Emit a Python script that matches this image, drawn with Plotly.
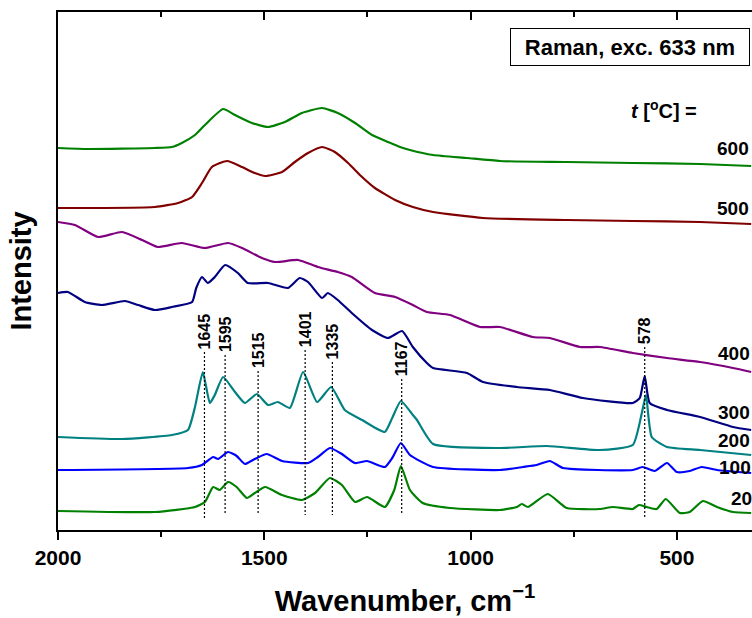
import plotly.graph_objects as go

# ---------------- data (intensity in arbitrary units, offsets included) ----------------
wn_600 = [2000, 1927, 1765, 1724, 1700, 1668, 1644, 1600, 1571, 1530, 1491, 1450, 1409, 1360, 1322, 1280,
          1239, 1200, 1171, 1147, 1091, 1009, 929, 767, 607, 444, 320]
int_600 = [382, 381, 382, 383, 387, 395, 405, 421, 415, 407, 403, 408, 417, 422, 417, 407,
           395, 388, 383, 380, 375, 372, 369, 368, 367, 366, 364]

wn_500 = [2000, 1765, 1709, 1675, 1651, 1627, 1590, 1554, 1523, 1498, 1457, 1426, 1394, 1360, 1329, 1297,
          1263, 1232, 1183, 1140, 1091, 970, 767, 607, 444, 320]
int_500 = [322, 323, 327, 333, 347, 363, 369, 363, 357, 354, 358, 368, 377, 383, 378, 367,
           353, 342, 330, 323, 318, 312, 310, 309, 308, 306]

wn_400 = [2000, 1959, 1903, 1845, 1796, 1758, 1700, 1644, 1588, 1554, 1506, 1474, 1418, 1370, 1322, 1288,
          1232, 1183, 1140, 1106, 1050, 977, 929, 849, 808, 735, 687, 607, 524, 444, 364, 320]
int_400 = [308, 305, 293, 298, 290, 283, 287, 282, 287, 282, 272, 268, 270, 263, 258, 253,
           237, 233, 225, 218, 215, 203, 203, 193, 192, 183, 183, 177, 172, 168, 162, 158]

wn_300 = [2000, 1976, 1935, 1894, 1838, 1806, 1765, 1724, 1675, 1665, 1651, 1637, 1620, 1595, 1564, 1540,
          1491, 1443, 1414, 1394, 1360, 1346, 1322, 1288, 1239, 1200, 1166, 1140, 1106, 1091, 1009, 970,
          888, 808, 728, 607, 590, 578, 566, 524, 444, 364, 320]
int_300 = [237, 238, 228, 225, 229, 225, 220, 223, 228, 242, 253, 247, 253, 265, 257, 247,
           247, 242, 252, 248, 232, 237, 230, 217, 200, 192, 199, 183, 167, 162, 157, 148,
           143, 140, 132, 127, 132, 154, 127, 120, 113, 103, 100]

wn_200 = [2000, 1845, 1724, 1685, 1668, 1649, 1632, 1620, 1600, 1571, 1547, 1518, 1491, 1467, 1438, 1406,
          1372, 1338, 1305, 1263, 1208, 1190, 1169, 1140, 1130, 1091, 929, 815, 687, 607, 585, 575, 561,
          524, 444, 320]
int_200 = [93, 91, 95, 100, 123, 158, 127, 135, 153, 138, 127, 136, 125, 128, 122, 158,
           128, 143, 120, 110, 98, 112, 129, 115, 110, 86, 82, 84, 80, 85, 117, 135, 93,
           83, 80, 75]

wn_100 = [2000, 1685, 1651, 1624, 1612, 1588, 1567, 1547, 1523, 1494, 1457, 1394, 1370, 1341, 1312, 1280,
          1251, 1208, 1190, 1169, 1147, 1091, 929, 873, 840, 808, 776, 607, 583, 554, 524, 500, 469, 440,
          403, 320]
int_100 = [60, 62, 65, 73, 71, 78, 74, 66, 71, 76, 69, 67, 73, 82, 76, 67,
           69, 63, 72, 87, 75, 63, 60, 63, 65, 69, 62, 60, 63, 59, 67, 58, 59, 63,
           60, 57]

wn_20 = [2000, 1765, 1668, 1644, 1624, 1608, 1588, 1567, 1542, 1523, 1498, 1457, 1409, 1377, 1341, 1312,
         1280, 1251, 1208, 1185, 1169, 1147, 1116, 1050, 929, 888, 876, 861, 813, 767, 687, 655, 607,
         592, 573, 549, 527, 493, 469, 437, 403, 364, 320]
int_20 = [19, 18, 23, 28, 43, 40, 48, 43, 32, 37, 43, 35, 30, 37, 52, 45,
          28, 33, 23, 40, 64, 40, 27, 22, 20, 23, 26, 23, 36, 22, 21, 23, 21,
          25, 23, 21, 31, 17, 18, 29, 23, 18, 17]

temps = ["600", "500", "400", "300", "200", "100", "20"]
colors = ["#008000", "#800000", "#800080", "#000080", "#008080", "#0000ff", "#008000"]
peaks = [1645, 1595, 1515, 1401, 1335, 1167, 578]
peak_labels = ["1645", "1595", "1515", "1401", "1335", "1167", "578"]

series = {
    "600": (wn_600, int_600), "500": (wn_500, int_500), "400": (wn_400, int_400),
    "300": (wn_300, int_300), "200": (wn_200, int_200), "100": (wn_100, int_100),
    "20": (wn_20, int_20),
}

# ---------------- layout geometry ----------------
W, H = 752, 618
L, R, T, B = 58, 0, 12, 88
AXIS_PY = H - B               # screen y of the x axis
Y_MAX = AXIS_PY - T
FONT = "Arial, 'Liberation Sans', sans-serif"


def px_x(px):
    """screen x -> paper x"""
    return (px - L) / (W - L - R)


def px_y(py):
    """screen y -> paper y"""
    return (AXIS_PY - py) / (H - T - B)


def dat_y(py):
    """screen y -> data y"""
    return AXIS_PY - py


fig = go.Figure()
for t, c in zip(temps, colors):
    x, y = series[t]
    fig.add_trace(go.Scatter(x=x, y=y, mode="lines",
                             line=dict(color=c, width=2.2, shape="spline", smoothing=0.5),
                             name=t + " °C", showlegend=False))
# empty trace to activate the top (inside-tick) axis
fig.add_trace(go.Scatter(x=[], y=[], xaxis="x2", showlegend=False, hoverinfo="skip"))

# peak marker lines and labels
label_bottom_py = [350, 353, 369, 348, 360, 377, 345]
line_bottom_py = [520, 515, 515, 515, 515, 515, 519]
for p, lab, tb, lb in zip(peaks, peak_labels, label_bottom_py, line_bottom_py):
    fig.add_shape(type="line", xref="x", yref="y", x0=p, x1=p, y0=dat_y(tb + 2), y1=dat_y(lb),
                  line=dict(color="black", width=1.2, dash="2px,2px"))
    fig.add_annotation(x=p, y=dat_y(tb), xref="x", yref="y", text=lab, showarrow=False,
                       textangle=-90, xanchor="center", yanchor="bottom", borderpad=0,
                       font=dict(family=FONT, size=16, color="black", weight="bold"))

# temperature labels
temp_label_pos = [(716, 148), (716, 208), (717, 353), (717, 412), (717, 440), (718, 467), (730, 498)]
for t, (px, py) in zip(temps, temp_label_pos):
    fig.add_annotation(x=px_x(px), y=px_y(py), xref="paper", yref="paper", text=t, showarrow=False,
                       xanchor="left", yanchor="middle", borderpad=0,
                       font=dict(family=FONT, size=19, color="black", weight="bold"))

fig.add_annotation(x=px_x(629), y=px_y(110), xref="paper", yref="paper",
                   text="<i>t</i> [<sup>o</sup>C] =", showarrow=False, xanchor="left", yanchor="middle",
                   font=dict(family=FONT, size=20, color="black", weight="bold"))

fig.add_annotation(x=px_x(630), y=px_y(47), xref="paper", yref="paper",
                   text="Raman, exc. 633 nm", showarrow=False, xanchor="center", yanchor="middle",
                   width=236, height=34, borderpad=1, borderwidth=1, bordercolor="black", bgcolor="white",
                   font=dict(family=FONT, size=22, color="black", weight="bold"))

fig.update_layout(
    width=W, height=H,
    margin=dict(l=L, r=R, t=T, b=B),
    paper_bgcolor="white", plot_bgcolor="white",
    font=dict(family=FONT, color="black"),
    xaxis=dict(
        range=[2000, 318], tick0=0, dtick=500, ticks="outside", ticklen=8, tickwidth=2,
        tickcolor="black", showline=True, linewidth=2, linecolor="black", mirror=True,
        showgrid=False, zeroline=False,
        minor=dict(dtick=250, ticks="outside", ticklen=5, tickwidth=2, tickcolor="black", showgrid=False),
        tickfont=dict(family=FONT, size=21, color="black", weight="bold"),
        title=dict(text="Wavenumber, cm<sup>−1</sup>", standoff=22,
                   font=dict(family=FONT, size=29, color="black", weight="bold")),
    ),
    xaxis2=dict(
        range=[2000, 318], overlaying="x", side="top", anchor="y", tick0=0, dtick=500,
        ticks="inside", ticklen=8, tickwidth=2, tickcolor="black", showticklabels=False,
        showline=False, showgrid=False, zeroline=False,
        minor=dict(dtick=250, ticks="inside", ticklen=5, tickwidth=2, tickcolor="black", showgrid=False),
    ),
    yaxis=dict(
        range=[0, Y_MAX], showticklabels=False, ticks="", showline=True, linewidth=2,
        linecolor="black", showgrid=False, zeroline=False,
        title=dict(text="Intensity", standoff=16,
                   font=dict(family=FONT, size=29, color="black", weight="bold")),
    ),
)

# remove the default 8px page margin so the 752x618 figure fills the window exactly
fig.write_html("out.html",
               config={"displayModeBar": False},
               post_script="document.body.style.margin='0px';"
                           "document.documentElement.style.overflow='hidden';")
